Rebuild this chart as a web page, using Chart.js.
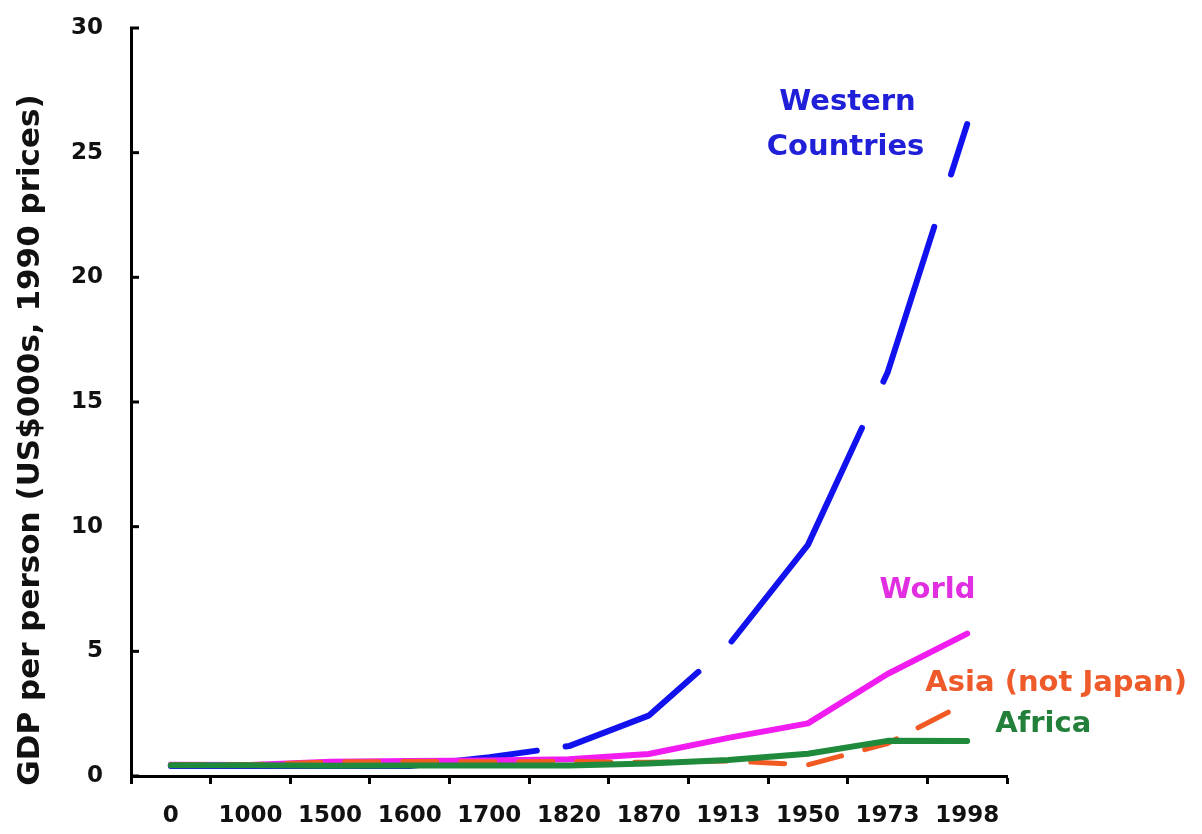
<!DOCTYPE html>
<html>
<head>
<meta charset="utf-8">
<script src="https://cdn.jsdelivr.net/npm/chart.js@4.4.1/dist/chart.umd.min.js"></script>
<style>
  html, body { margin: 0; padding: 0; background: #ffffff; }
  #wrap { width: 1202px; height: 834px; position: relative; }
</style>
</head>
<body>
<div id="wrap"><canvas id="c"></canvas></div>
<script>
// ---- data ----
const categories = ['0', '1000', '1500', '1600', '1700', '1820', '1870', '1913', '1950', '1973', '1998'];
const western = [0.40, 0.40, 0.40, 0.40, 0.75, 1.20, 2.42, 5.23, 9.27, 16.18, 26.15];
const world   = [0.45, 0.44, 0.57, 0.60, 0.62, 0.67, 0.88, 1.53, 2.11, 4.09, 5.71];
const asia    = [0.45, 0.45, 0.57, 0.58, 0.57, 0.58, 0.55, 0.60, 0.45, 1.30, 2.95];
const africa  = [0.43, 0.43, 0.41, 0.42, 0.42, 0.42, 0.50, 0.64, 0.89, 1.41, 1.40];
const yTicks  = [0, 5, 10, 15, 20, 25, 30];
const yTitle  = 'GDP per person (US$000s, 1990 prices)';

const BLUE = '#1212ee', MAGENTA = '#f01cf0', ORANGE = '#f25a24', GREEN = '#1f8a3c';
const TXT_BLUE = '#2020d8', TXT_MAG = '#e02ee0', TXT_OR = '#ee5a2a', TXT_GR = '#22803a';

// series labels placed next to the lines (anchored to category index + value)
const seriesLabels = [
  { text: 'Western',          i: 9,  dx: -40, v: 27.0, color: TXT_BLUE },
  { text: 'Countries',        i: 9,  dx: -42, v: 25.2, color: TXT_BLUE },
  { text: 'World',            i: 9,  dx: 40,  v: 7.45, color: TXT_MAG },
  { text: 'Asia (not Japan)', i: 10, dx: 89,  v: 3.72, color: TXT_OR },
  { text: 'Africa',           i: 10, dx: 76,  v: 2.05, color: TXT_GR }
];

Chart.defaults.font.family = "'DejaVu Sans', Verdana, sans-serif";
Chart.defaults.color = '#111';

const decorPlugin = {
  id: 'decor',
  afterDraw(chart) {
    const ctx = chart.ctx;
    const ys = chart.scales.y, xs = chart.scales.x;
    // inward tick marks on the y axis
    ctx.save();
    ctx.strokeStyle = '#000';
    ctx.lineWidth = 3;
    ys.ticks.forEach((t, k) => {
      const py = ys.getPixelForTick(k);
      ctx.beginPath();
      ctx.moveTo(ys.right - 1, py);
      ctx.lineTo(ys.right + 8, py);
      ctx.stroke();
    });
    ctx.restore();

    // y-axis title
    ctx.save();
    ctx.fillStyle = '#111';
    ctx.font = "bold 31px 'DejaVu Sans'";
    ctx.textAlign = 'center';
    ctx.textBaseline = 'middle';
    ctx.translate(31, (ys.top + ys.bottom) / 2 + 38);
    ctx.rotate(-Math.PI / 2);
    ctx.fillText(yTitle, 0, 0);
    ctx.restore();

    // series labels
    ctx.save();
    ctx.font = "bold 29px 'DejaVu Sans'";
    ctx.textAlign = 'center';
    ctx.textBaseline = 'middle';
    seriesLabels.forEach(l => {
      ctx.fillStyle = l.color;
      ctx.fillText(l.text, xs.getPixelForValue(l.i) + l.dx, ys.getPixelForValue(l.v));
    });
    ctx.restore();
  }
};

const common = { pointRadius: 0, pointHoverRadius: 0, tension: 0, fill: false, borderCapStyle: 'round', borderJoinStyle: 'round' };

new Chart(document.getElementById('c'), {
  type: 'line',
  data: {
    labels: categories,
    datasets: [
      Object.assign({ label: 'Africa', data: africa, borderColor: GREEN, borderWidth: 6 }, common),
      Object.assign({ label: 'Asia (not Japan)', data: asia, borderColor: ORANGE, borderWidth: 5, borderDash: [34, 24], borderDashOffset: 0 }, common),
      Object.assign({ label: 'World', data: world, borderColor: MAGENTA, borderWidth: 6 }, common),
      Object.assign({ label: 'Western Countries', data: western, borderColor: BLUE, borderWidth: 6,
        borderDash: [367, 29, 155, 45, 252, 51, 163, 55, 400, 1], borderDashOffset: 0 }, common)
    ]
  },
  options: {
    responsive: true,
    maintainAspectRatio: false,
    animation: false,
    events: [],
    layout: { padding: { left: 0, right: 195, top: 28, bottom: 0 } },
    plugins: { legend: { display: false }, tooltip: { enabled: false }, title: { display: false } },
    scales: {
      x: {
        type: 'category',
        offset: true,
        grid: { offset: true, drawOnChartArea: false, drawTicks: true, tickLength: 8, tickWidth: 3, tickColor: '#000' },
        border: { display: true, color: '#000', width: 3 },
        ticks: { font: { size: 23, weight: 'bold' }, color: '#111', padding: 18, maxRotation: 0, autoSkip: false },
        afterFit(s) { s.height = 58; s.paddingLeft = 0; s.paddingRight = 0; }
      },
      y: {
        min: 0, max: 30,
        afterBuildTicks(s) { s.ticks = yTicks.map(v => ({ value: v })); },
        grid: { drawOnChartArea: false, drawTicks: false },
        border: { display: true, color: '#000', width: 3 },
        ticks: { font: { size: 23, weight: 'bold' }, color: '#111', padding: 28 },
        afterFit(s) { s.width = 131; s.paddingTop = 0; s.paddingBottom = 0; }
      }
    }
  },
  plugins: [decorPlugin]
});
</script>
</body>
</html>
